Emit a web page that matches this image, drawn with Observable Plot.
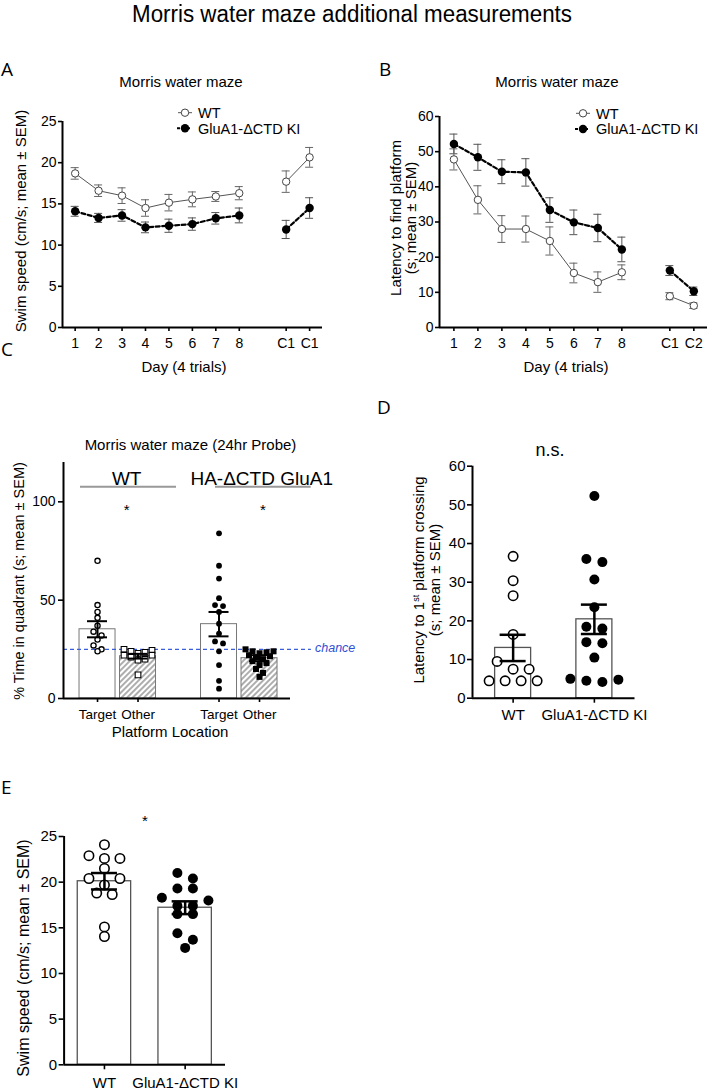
<!DOCTYPE html>
<html>
<head>
<meta charset="utf-8">
<script src="https://cdn.jsdelivr.net/npm/d3@7"></script>
<script src="https://cdn.jsdelivr.net/npm/@observablehq/plot@0.6"></script>
<style>
html,body{margin:0;padding:0;background:#fff;}
#fig{position:relative;width:707px;height:1091px;overflow:hidden;background:#fff;}
#fig svg{position:absolute;}
</style>
</head>
<body>
<div id="fig"></div>
<script>
// ---------------- DATA ----------------
// Panel A: swim speed per day (cm/s), mean and SEM
const dayLabelsA = ["1","2","3","4","5","6","7","8","C1","C1"];
const speedWT    = [18.7,16.6,16.0,14.5,15.15,15.55,15.9,16.3,17.7,20.65];
const speedWTsem = [0.7,0.7,0.95,1.0,1.0,0.9,0.6,0.8,1.3,1.2];
const speedKI    = [14.1,13.3,13.6,12.15,12.35,12.55,13.25,13.6,11.9,14.5];
const speedKIsem = [0.6,0.55,0.7,0.65,0.8,0.75,0.7,0.9,1.1,1.25];
const speedTicks = [0,5,10,15,20,25];

// Panel B: latency to find platform (s)
const dayLabelsB = ["1","2","3","4","5","6","7","8","C1","C2"];
const latWT    = [47.8,36.3,28.0,28.0,24.6,15.5,12.9,15.7,8.9,6.2];
const latWTsem = [3.0,4.0,3.8,3.7,4.0,2.8,2.9,2.1,1.0,0.8];
const latKI    = [52.2,48.4,44.3,44.1,33.4,29.9,28.3,22.2,16.2,10.3];
const latKIsem = [2.8,3.7,3.4,3.9,3.5,3.5,3.9,3.5,1.4,1.2];
const latTicks = [0,10,20,30,40,50,60];

// Panel C: % time in quadrant (24hr probe)
const probeGroups = ["WT","HA-ΔCTD GluA1"];
const probeConds  = ["Target","Other"];
const probeMeanWT = [35.2,21.5];
const probeSemWT  = [4.1,1.2];
const probeMeanHA = [37.8,20.5];
const probeSemHA  = [6.2,1.5];
const probeWTtarget = [70,47.5,44,41,37,34,32,30,27,25,24];
const probeWTother  = [25,24.5,24,23.5,23,22,22,21,20,19.5,12];
const probeHAtarget = [84,67.5,61,51,47.5,47,44,38,33,29,28,24,17,9,5];
const probeHAother  = [25,24,24,23.5,23,22,21.5,21,20,19,18,17,15,13,11];
const probeTicks = [0,50,100];
const chanceLevel = 25;

// Panel D: latency to 1st platform crossing (s)
const genotypes = ["WT","GluA1-ΔCTD KI"];
const crossWT = [36.7,30.4,26.5,16.5,9.5,7.5,7.5,4.5,4.5,4.5,4.5];
const crossKI = [52.3,36.0,35.2,30.7,23.5,18.5,18,14.5,14.2,10.5,5,4.8,4.5,4.2];
const crossMean = [13.0,20.4];
const crossSem  = [3.4,3.8];
const crossTicks = [0,10,20,30,40,50,60];

// Panel E: swim speed (cm/s) probe
const swimWT = [24.1,22.9,22.6,22.6,21.5,20.4,20.4,19.7,18.8,18.65,15.1,14.05];
const swimKI = [21.0,20.4,19.3,19.3,18.3,18.0,17.4,17.4,16.5,16.5,14.4,13.7,12.8];
const swimMean = [20.1,17.2];
const swimSem  = [0.9,0.7];
const swimTicks = [0,5,10,15,20,25];

// ---------------- HELPERS ----------------
const FONT = '"Liberation Sans", Arial, Helvetica, sans-serif';
const LETTER = '"Open Sans", "Noto Sans", sans-serif';
const fig = document.getElementById("fig");

function scalesOf(cfg) {
  return {
    pxX: (cfg.width - cfg.mL - cfg.mR) / (cfg.xd[1] - cfg.xd[0]),
    pxY: (cfg.height - cfg.mT - cfg.mB) / (cfg.yd[1] - cfg.yd[0])
  };
}

function makePanel(cfg, marks, xOpts, yOpts) {
  const svg = Plot.plot({
    width: cfg.width, height: cfg.height,
    marginLeft: cfg.mL, marginRight: cfg.mR, marginTop: cfg.mT, marginBottom: cfg.mB,
    style: {fontFamily: FONT, fontSize: "14px", background: "transparent", overflow: "visible", color: "#000"},
    x: Object.assign({domain: cfg.xd, label: null}, xOpts),
    y: Object.assign({domain: cfg.yd, label: null}, yOpts),
    marks
  });
  svg.style.position = "absolute";
  svg.style.left = cfg.left + "px";
  svg.style.top = cfg.top + "px";
  fig.appendChild(svg);
  const s = d3.select(svg);
  s.selectAll('[aria-label^="x-axis"] text').attr("font-size", cfg.xfs);
  s.selectAll('[aria-label^="y-axis"] text').attr("font-size", cfg.yfs);
  s.selectAll('[aria-label*="axis"] path, [aria-label*="axis"] line').attr("stroke", "#000").attr("stroke-width", 1.6);
  return svg;
}

// Prism-like column scatter: group near values into rows, spread rows symmetrically
function swarm(values, center, pxX, pxY, thresh, spacing) {
  const sorted = [...values].sort((a, b) => b - a);
  const bins = [];
  for (const v of sorted) {
    const b = bins[bins.length - 1];
    if (b && (b[0] - v) * pxY < thresh) b.push(v); else bins.push([v]);
  }
  const pts = [];
  for (const b of bins) {
    const n = b.length;
    const slots = d3.range(n).map(j => j - (n - 1) / 2)
      .sort((p, q) => Math.abs(q) - Math.abs(p) || p - q);
    b.forEach((v, j) => pts.push({x: center + slots[j] * spacing / pxX, y: v}));
  }
  return pts;
}

function errMarks(data, xKey, cap, stroke, sw) {
  return [
    Plot.ruleX(data, {x: xKey, y1: "lo", y2: "hi", stroke, strokeWidth: sw}),
    Plot.ruleY(data, {y: "hi", x1: d => d[xKey] - cap, x2: d => d[xKey] + cap, stroke, strokeWidth: sw}),
    Plot.ruleY(data, {y: "lo", x1: d => d[xKey] - cap, x2: d => d[xKey] + cap, stroke, strokeWidth: sw})
  ];
}

function axisLines(cfg) {
  return [
    Plot.ruleY([cfg.yd[0]], {stroke: "#000", strokeWidth: 2}),
    Plot.ruleX([cfg.xd[0]], {stroke: "#000", strokeWidth: 2})
  ];
}

// ---------------- LINE PANELS (A, B) ----------------
function linePanel(cfg, labels, wtV, wtS, kiV, kiS, yTicks) {
  const pos = labels.map((_, i) => i < 8 ? i + 1 : i + 2);
  const rows = (v, s) => v.map((y, i) => ({x: pos[i], y, lo: y - s[i], hi: y + s[i], seg: i < 8 ? "days" : "ctrl"}));
  const wt = rows(wtV, wtS), ki = rows(kiV, kiS);
  const {pxX} = scalesOf(cfg);
  const cap = 4 / pxX;
  return makePanel(cfg, [
    ...axisLines(cfg),
    ...errMarks(wt, "x", cap, "#666", 1),
    ...errMarks(ki, "x", cap, "#555", 1),
    Plot.line(wt, {x: "x", y: "y", z: "seg", stroke: "#555", strokeWidth: 1}),
    Plot.line(ki, {x: "x", y: "y", z: "seg", stroke: "#000", strokeWidth: 2.2, strokeDasharray: "4,2.5"}),
    Plot.dot(wt, {x: "x", y: "y", r: 3.7, fill: "#fff", stroke: "#444", strokeWidth: 1}),
    Plot.dot(ki, {x: "x", y: "y", r: 4.2, fill: "#000", stroke: "none"})
  ],
  {ticks: pos, tickFormat: d => labels[pos.indexOf(d)], tickSize: 4, tickPadding: 7},
  {ticks: yTicks, tickSize: 4, tickPadding: 2});
}

const A = {left: 0, top: 100, width: 345, height: 257, mL: 62, mR: 23, mT: 21, mB: 30, xd: [0.46, 11.55], yd: [0, 25], xfs: 14, yfs: 14};
linePanel(A, dayLabelsA, speedWT, speedWTsem, speedKI, speedKIsem, speedTicks);

const B = {left: 350, top: 100, width: 357, height: 257, mL: 89, mR: 0, mT: 16, mB: 30, xd: [0.40, 11.57], yd: [0, 60], xfs: 14, yfs: 14};
linePanel(B, dayLabelsB, latWT, latWTsem, latKI, latKIsem, latTicks);

// ---------------- PANEL C ----------------
const C = {left: 0, top: 450, width: 345, height: 270, mL: 63, mR: 55, mT: 12, mB: 22, xd: [0.16, 5.765], yd: [0, 120], xfs: 13.5, yfs: 14};
{
  const {pxX, pxY} = scalesOf(C);
  const probe = [];
  probeGroups.forEach((g, gi) => probeConds.forEach((c, ci) => {
    const m = (gi ? probeMeanHA : probeMeanWT)[ci], s = (gi ? probeSemHA : probeSemWT)[ci];
    probe.push({pos: gi * 3 + ci + 1, cond: c, group: g, mean: m, lo: m - s, hi: m + s});
  }));
  const bw = 18 / pxX, cap = 10 / pxX;
  const wtT = swarm(probeWTtarget, probe[0].pos, pxX, pxY, 5.5, 8);
  const wtO = swarm(probeWTother, probe[1].pos, pxX, pxY, 5.5, 7);
  const haT = swarm(probeHAtarget, probe[2].pos, pxX, pxY, 5.5, 8);
  const haO = swarm(probeHAother, probe[3].pos, pxX, pxY, 5.5, 7);
  const chanceLineEnd = 6.28;
  const svgC = makePanel(C, [
    Plot.rect(probe.filter(d => d.cond === "Target"), {x1: d => d.pos - bw, x2: d => d.pos + bw, y1: 0, y2: "mean", fill: "#fff", stroke: "#777", strokeWidth: 1}),
    Plot.rect(probe.filter(d => d.cond === "Other"), {x1: d => d.pos - bw, x2: d => d.pos + bw, y1: 0, y2: "mean", fill: "url(#hatchC)", stroke: "#777", strokeWidth: 1}),
    Plot.ruleY([chanceLevel], {x1: C.xd[0], x2: chanceLineEnd, stroke: "#3a5ee0", strokeWidth: 1.4, strokeDasharray: "4,3"}),
    Plot.dot(wtT, {x: "x", y: "y", r: 2.6, fill: "#fff", stroke: "#000", strokeWidth: 1.3}),
    Plot.dot(wtO, {x: "x", y: "y", symbol: "square", r: 3.2, fill: "#fff", stroke: "#000", strokeWidth: 1.1}),
    Plot.dot(haT, {x: "x", y: "y", r: 2.9, fill: "#000", stroke: "none"}),
    Plot.dot(haO, {x: "x", y: "y", symbol: "square", r: 3.4, fill: "#000", stroke: "none"}),
    ...errMarks(probe, "pos", cap, "#000", 2),
    ...axisLines(C)
  ],
  {ticks: probe.map(d => d.pos), tickFormat: d => probe.find(p => p.pos === d).cond, tickSize: 4, tickPadding: 7},
  {ticks: probeTicks, tickSize: 5, tickPadding: 3});
  const defs = d3.select(svgC).insert("defs", ":first-child");
  const pat = defs.append("pattern").attr("id", "hatchC").attr("patternUnits", "userSpaceOnUse")
    .attr("width", 4).attr("height", 4).attr("patternTransform", "rotate(45)");
  pat.append("rect").attr("width", 4).attr("height", 4).attr("fill", "#fff");
  pat.append("line").attr("x1", 1).attr("y1", 0).attr("x2", 1).attr("y2", 4).attr("stroke", "#777").attr("stroke-width", 1.2);
}

// ---------------- PANELS D, E ----------------
function scatterBar(cfg, labels, ptsWT, ptsKI, means, sems, yTicks, o) {
  const {pxX, pxY} = scalesOf(cfg);
  const stats = labels.map((g, i) => ({pos: i + 1, g, mean: means[i], lo: means[i] - sems[i], hi: means[i] + sems[i]}));
  const wt = swarm(ptsWT, 1, pxX, pxY, o.thresh, o.spacing);
  const ki = swarm(ptsKI, 2, pxX, pxY, o.thresh, o.spacing);
  const bw = o.barHalf / pxX, cap = 13 / pxX;
  return makePanel(cfg, [
    Plot.rect(stats, {x1: d => d.pos - bw, x2: d => d.pos + bw, y1: 0, y2: "mean", fill: "#fff", stroke: "#555", strokeWidth: 1.3}),
    Plot.dot(wt, {x: "x", y: "y", r: o.r, fill: "#fff", stroke: "#000", strokeWidth: 1.6}),
    Plot.dot(ki, {x: "x", y: "y", r: o.r + 0.3, fill: "#000", stroke: "none"}),
    ...errMarks(stats, "pos", cap, "#000", 2.5),
    ...axisLines(cfg)
  ],
  {ticks: stats.map(d => d.pos), tickFormat: d => labels[d - 1], tickSize: 5, tickPadding: o.tickPad},
  {ticks: yTicks, tickSize: 5, tickPadding: 2});
}

const D = {left: 350, top: 450, width: 357, height: 270, mL: 122, mR: 72.5, mT: 15.7, mB: 22.3, xd: [0.5, 2.5], yd: [0, 60], xfs: 15, yfs: 15};
scatterBar(D, genotypes, crossWT, crossKI, crossMean, crossSem, crossTicks, {thresh: 9.5, spacing: 16, barHalf: 18, r: 4.7, tickPad: 6});

const E = {left: 0, top: 820, width: 260, height: 271, mL: 63.6, mR: 35, mT: 16, mB: 26.7, xd: [0.5, 2.5], yd: [0, 25], xfs: 15, yfs: 15};
scatterBar(E, genotypes, swimWT, swimKI, swimMean, swimSem, swimTicks, {thresh: 8.5, spacing: 15.5, barHalf: 26.7, r: 4.7, tickPad: 8});

// ---------------- TEXT OVERLAY ----------------
const ov = d3.select(fig).append("svg").attr("width", 707).attr("height", 1091)
  .style("left", "0px").style("top", "0px").style("white-space", "pre")
  .attr("font-family", FONT);

function T(s, x, y, fs, o = {}) {
  const t = ov.append("text").attr("x", x).attr("y", y + (o.k ?? 0.36) * fs)
    .attr("font-size", fs).attr("text-anchor", o.anchor || "middle").attr("fill", o.fill || "#000");
  if (o.family) t.attr("font-family", o.family);
  if (o.italic) t.attr("font-style", "italic");
  if (o.len) t.attr("textLength", o.len).attr("lengthAdjust", "spacingAndGlyphs");
  t.text(s);
  return t;
}
function V(s, cx, cy, fs) {
  const t = ov.append("text").attr("transform", `translate(${cx + 0.33 * fs},${cy}) rotate(-90)`)
    .attr("text-anchor", "middle").attr("font-size", fs);
  if (s !== null) t.text(s);
  return t;
}

T("Morris water maze additional measurements", 352, 14, 23.5, {len: 440});

// panel letters
T("A", 1, 69.5, 19, {anchor: "start", family: LETTER});
T("B", 379, 69.5, 19, {anchor: "start", family: LETTER});
T("C", 1, 349, 19, {anchor: "start", family: LETTER});
T("D", 377, 407, 19, {anchor: "start", family: LETTER});
T("E", 1, 787, 19, {anchor: "start", family: LETTER});

// A / B titles, labels, legends
T("Morris water maze", 181, 81.5, 15);
T("Morris water maze", 557, 81.5, 15);
T("Day (4 trials)", 184, 367, 15);
T("Day (4 trials)", 566, 367, 15);
V("Swim speed (cm/s; mean ± SEM)", 21, 221, 15);
V("Latency to find  platform", 396, 218, 15);
V("(s; mean ± SEM)", 411, 218, 15);

function legend(cx, y1, y2, tx) {
  ov.append("line").attr("x1", cx - 7).attr("x2", cx + 7).attr("y1", y1).attr("y2", y1).attr("stroke", "#555").attr("stroke-width", 1);
  ov.append("circle").attr("cx", cx).attr("cy", y1).attr("r", 3.7).attr("fill", "#fff").attr("stroke", "#444");
  T("WT", tx, y1, 14.5, {anchor: "start"});
  ov.append("line").attr("x1", cx - 8).attr("x2", cx + 6).attr("y1", y2).attr("y2", y2).attr("stroke", "#000").attr("stroke-width", 2).attr("stroke-dasharray", "3,2");
  ov.append("circle").attr("cx", cx).attr("cy", y2).attr("r", 4.2).attr("fill", "#000");
  T("GluA1-ΔCTD KI", tx, y2, 14.5, {anchor: "start"});
}
legend(185, 112.7, 128.3, 198);
legend(583, 113.3, 129, 596);

// C annotations
T("Morris water maze (24hr Probe)", 190.5, 445, 15);
V("% Time in quadrant (s; mean ± SEM)", 19, 581, 14.5);
T("WT", 126.7, 478, 19);
T("HA-ΔCTD GluA1", 261.7, 478, 19);
ov.append("line").attr("x1", 80).attr("x2", 176).attr("y1", 486.7).attr("y2", 486.7).attr("stroke", "#999").attr("stroke-width", 2);
ov.append("line").attr("x1", 215).attr("x2", 310.7).attr("y1", 486.7).attr("y2", 486.7).attr("stroke", "#999").attr("stroke-width", 2);
T("*", 126.7, 506.7, 15, {k: 0.58});
T("*", 263, 506.7, 15, {k: 0.58});
T("chance", 315, 649, 12.5, {anchor: "start", italic: true, fill: "#2f4fd6", k: 0.26});
T("Platform Location", 170, 732, 15);

// D annotations
T("n.s.", 550, 451, 18, {k: 0.26});
{
  const t = V(null, 419, 580, 15);
  t.append("tspan").text("Latency to 1");
  t.append("tspan").attr("font-size", 9).attr("dy", -5).text("st");
  t.append("tspan").attr("dy", 5).text(" platform crossing");
}
V("(s; mean ± SEM)", 435, 580, 15);

// E annotations
T("*", 145, 817, 15, {k: 0.58});
V("Swim speed (cm/s; mean ± SEM)", 24, 958, 16);
</script>
</body>
</html>
